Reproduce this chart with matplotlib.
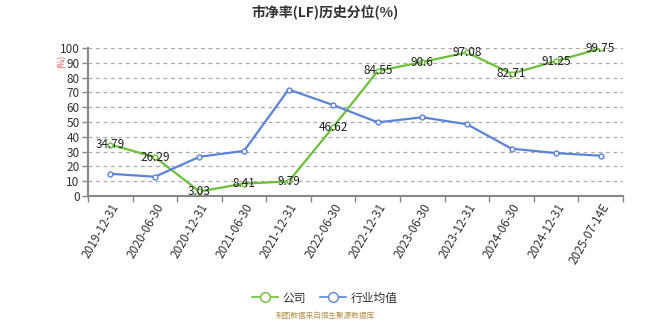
import matplotlib
matplotlib.use("Agg")
import matplotlib.pyplot as plt
from matplotlib.lines import Line2D

plt.rcParams['font.family'] = ['Noto Sans CJK SC', 'DejaVu Sans']

categories = ["2019-12-31", "2020-06-30", "2020-12-31", "2021-06-30", "2021-12-31",
              "2022-06-30", "2022-12-31", "2023-06-30", "2023-12-31", "2024-06-30",
              "2024-12-31", "2025-07-14E"]
company = [34.79, 26.29, 3.03, 8.41, 9.79, 46.62, 84.55, 90.6, 97.08, 82.71, 91.25, 99.75]
company_labels = ["34.79", "26.29", "3.03", "8.41", "9.79", "46.62", "84.55", "90.6",
                  "97.08", "82.71", "91.25", "99.75"]
industry = [15.0, 13.0, 26.5, 30.5, 72.0, 61.5, 49.8, 53.2, 48.5, 32.0, 29.0, 27.2]
yticks = list(range(0, 101, 10))

green = "#6cc03a"
blue = "#5b84d8"

fig = plt.figure(figsize=(6.5, 3.25), dpi=100)
ax = fig.add_axes([0.1354, 0.397, 0.823, 0.455])

x = list(range(len(categories)))
ax.plot(x, company, color=green, lw=1.6, marker='o', ms=3.5, mfc='white',
        mec=green, mew=1, zorder=3)
ax.plot(x, industry, color=blue, lw=1.6, marker='o', ms=3.5, mfc='white',
        mec=blue, mew=1, zorder=3)

for xi, v, t in zip(x, company, company_labels):
    ax.annotate(t, (xi, v), xytext=(0, 0), textcoords='offset points',
                ha='center', va='center', fontsize=8.5, color='#222222', zorder=4)

ax.set_xlim(-0.5, len(categories) - 0.5)
ax.set_ylim(0, 100)
ax.set_yticks(yticks)
ax.set_yticklabels([str(t) for t in yticks], fontsize=8.5, color='#333333')
ax.yaxis.grid(True, linestyle=(0, (3, 3)), color='#aaaaaa', lw=0.9)
ax.set_axisbelow(True)

ax.set_xticks([i - 0.5 for i in range(len(categories) + 1)], minor=False)
ax.set_xticklabels([])
ax.set_xticks(x, minor=True)
ax.set_xticklabels(categories, minor=True, rotation=60, ha='right',
                   rotation_mode='anchor', fontsize=8.5, color='#333333')
ax.tick_params(axis='x', which='minor', length=0, pad=4)
ax.tick_params(axis='x', which='major', length=4, color='#888888', width=1)
ax.tick_params(axis='y', length=4, color='#888888', width=1, pad=2)

for s in ['top', 'right']:
    ax.spines[s].set_visible(False)
for s in ['left', 'bottom']:
    ax.spines[s].set_color('#888888')
    ax.spines[s].set_linewidth(1.5)

fig.text(0.096, 0.81, "(%)", color='#d9534f', fontsize=6, rotation=90,
         ha='center', va='center')

fig.text(0.5, 0.965, "市净率(LF)历史分位(%)", ha='center', va='center',
         fontsize=10, fontweight='bold', color='#333333')

handles = [
    Line2D([], [], color=green, lw=1.2, marker='o', ms=7, mfc='white', mec=green, mew=1),
    Line2D([], [], color=blue, lw=1.2, marker='o', ms=7, mfc='white', mec=blue, mew=1),
]
leg = fig.legend(handles, ["公司", "行业均值"], loc='center', bbox_to_anchor=(0.5, 0.083),
                 ncol=2, frameon=False, fontsize=8.5, handlelength=2.2,
                 columnspacing=1.2, handletextpad=0.4)
for t in leg.get_texts():
    t.set_color('#333333')

fig.text(0.5, 0.015, "制图数据来自恒生聚源数据库", ha='center', va='bottom',
         fontsize=5.5, color='#b5924c')

fig.savefig("out.png", dpi=100)
